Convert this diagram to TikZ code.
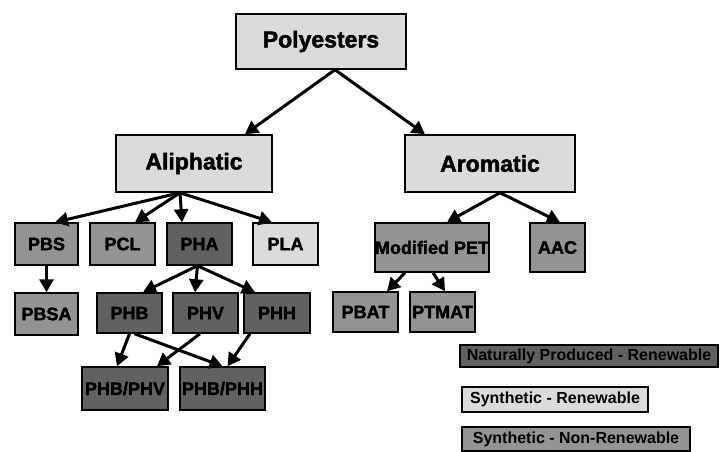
\documentclass[tikz,border=0pt]{standalone}
\usepackage{fontspec}
\setmainfont{Liberation Sans}
\newfontfamily\heavyfont{Liberation Sans Bold}[FakeBold=2]
\usetikzlibrary{arrows.meta,positioning}

\tikzset{
    box/.style={draw, line width=1.5pt, inner sep=0pt, font=\heavyfont\fontsize{18}{18}\selectfont},
    bigbox/.style={box, font=\heavyfont\fontsize{23}{23}\selectfont},
    legbox/.style={box, line width=1.2pt, font=\bfseries\fontsize{16}{16}\selectfont},
    lite/.style={fill=black!14},
    mid/.style={fill=black!42},
    dark/.style={fill=black!62},
    link/.style={->, line width=3pt}
}

\begin{document}
\begin{tikzpicture}[%
    >={Triangle[length=13pt, width=14pt]},   % filled arrow heads
    x=1pt,
    y=-1pt
    ]
    \useasboundingbox (0,0) rectangle (720,452);

    % top levels
    \node at (321,41.5) [bigbox, lite, minimum width=170pt, minimum height=55pt] (pol) {Polyesters};
    \node at (194,163.5) [bigbox, lite, minimum width=156pt, minimum height=57pt] (ali) {Aliphatic};
    \node at (490,163.5) [bigbox, lite, minimum width=170pt, minimum height=57pt] (aro) {Aromatic};
        \draw [link] ([xshift=14pt]pol.south) -- ([xshift=51pt]ali.north);
        \draw [link] ([xshift=14pt]pol.south) -- ([xshift=-65pt]aro.north);

    % aliphatic branch
    \node at (46.5,244) [box, mid, minimum width=63pt, minimum height=42pt] (pbs) {PBS};
    \node at (122.5,244) [box, mid, minimum width=65pt, minimum height=42pt] (pcl) {PCL};
    \node at (199.5,244) [box, dark, minimum width=65pt, minimum height=42pt] (pha) {PHA};
    \node at (285.5,244) [box, lite, minimum width=65pt, minimum height=42pt] (pla) {PLA};
        \draw [link] ([xshift=-14pt]ali.south) -- ([xshift=8.5pt]pbs.north);
        \draw [link] ([xshift=-14pt]ali.south) -- ([xshift=12.5pt]pcl.north);
        \draw [link] ([xshift=-14pt]ali.south) -- ([xshift=-17.5pt]pha.north);
        \draw [link] ([xshift=-14pt]ali.south) -- ([xshift=-13.5pt]pla.north);

    \node at (46.5,314) [box, mid, minimum width=63pt, minimum height=42pt] (pbsa) {PBSA};
        \draw [link] (pbs.south) -- (pbsa.north);

    \node at (129.5,313) [box, dark, minimum width=65pt, minimum height=40pt] (phb) {PHB};
    \node at (205.5,313) [box, dark, minimum width=65pt, minimum height=40pt] (phv) {PHV};
    \node at (277,313) [box, dark, minimum width=66pt, minimum height=40pt] (phh) {PHH};
        \draw [link] ([xshift=-2pt]pha.south) -- ([xshift=13.5pt]phb.north);
        \draw [link] ([xshift=-2pt]pha.south) -- ([xshift=-10.5pt]phv.north);
        \draw [link] ([xshift=-2pt]pha.south) -- ([xshift=-22pt]phh.north);

    \node at (125,388.5) [box, dark, minimum width=86pt, minimum height=43pt] (phbv) {PHB/PHV};
    \node at (222.5,388.5) [box, dark, minimum width=85pt, minimum height=43pt] (phbh) {PHB/PHH};
        \draw [link] (phb.south) -- ([xshift=-8pt]phbv.north);
        \draw [link] ([xshift=5pt]phb.south) -- (phbh.north);
        \draw [link] ([xshift=-5.5pt]phv.south) -- ([xshift=32pt]phbv.north);
        \draw [link] ([xshift=-27pt]phh.south) -- ([xshift=5pt]phbh.north);

    % aromatic branch
    \node at (432,247.5) [box, mid, minimum width=114pt, minimum height=49pt] (mpet) {Modified PET};
    \node at (557.5,247.5) [box, mid, minimum width=55pt, minimum height=49pt] (aac) {AAC};
        \draw [link] ([xshift=10pt]aro.south) -- ([xshift=15pt]mpet.north);
        \draw [link] ([xshift=10pt]aro.south) -- ([xshift=2.5pt]aac.north);

    \node at (365.5,312) [box, mid, minimum width=65pt, minimum height=40pt] (pbat) {PBAT};
    \node at (442.5,312) [box, mid, minimum width=65pt, minimum height=40pt] (ptmat) {PTMAT};
        \draw [link] ([xshift=-27pt]mpet.south) -- ([xshift=21.5pt]pbat.north);
        \draw [link] ([xshift=1pt]mpet.south) -- ([xshift=2.5pt]ptmat.north);

    % legend
    \node at (589,356) [legbox, dark, minimum width=258pt, minimum height=22pt] (nat) {Naturally Produced - Renewable};
    \node at (555,399.5) [legbox, lite, minimum width=186pt, minimum height=25pt] (synr) {Synthetic - Renewable};
    \node at (576,439) [legbox, mid, minimum width=228pt, minimum height=24pt] (synn) {Synthetic - Non-Renewable};
\end{tikzpicture}
\end{document}
